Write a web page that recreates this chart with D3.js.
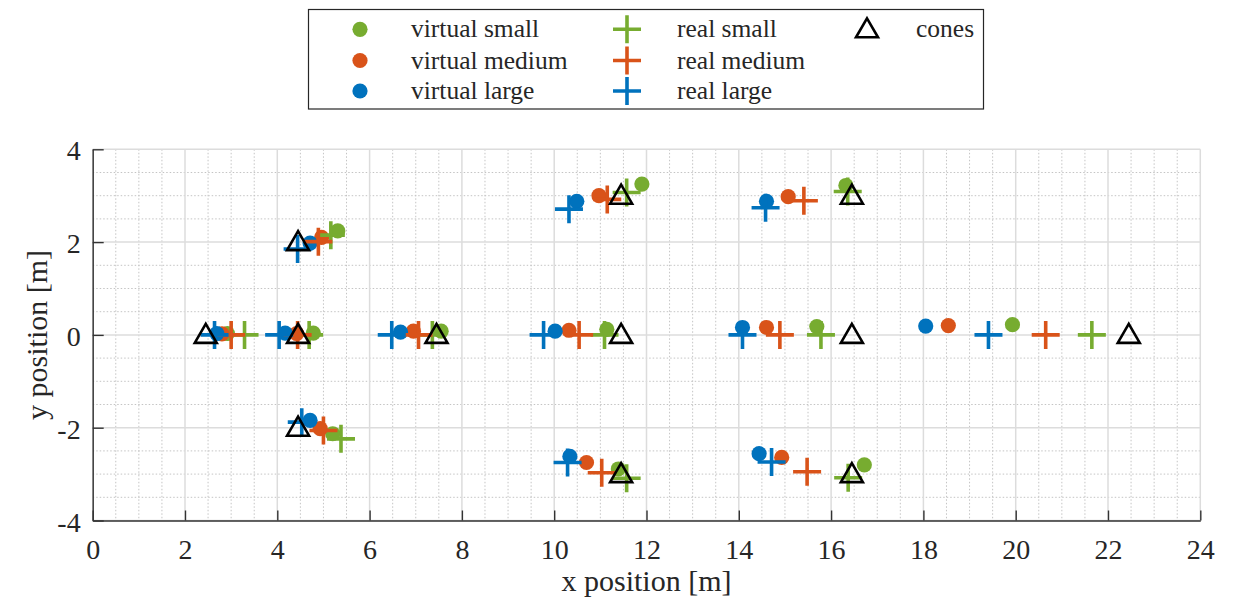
<!DOCTYPE html>
<html><head><meta charset="utf-8">
<script src="https://cdn.jsdelivr.net/npm/d3@7"></script>
<style>
body{margin:0;background:#fff}
svg{display:block;background:#fff}
svg text{font-family:"Liberation Serif","Times New Roman",serif !important;fill:#262626}
</style>
</head><body>
<svg id="chart" width="1243" height="604"></svg>
<script>
// ---------- data ----------
const xTickValues = [0, 2, 4, 6, 8, 10, 12, 14, 16, 18, 20, 22, 24];
const yTickValues = [-4, -2, 0, 2, 4];
const xLabel = "x position [m]";
const yLabel = "y position [m]";

const seriesNames = ["virtual small", "virtual medium", "virtual large", "real small", "real medium", "real large", "cones"];
const seriesColors = ["#77AC30", "#D95319", "#0072BD", "#77AC30", "#D95319", "#0072BD", "#000000"];
const seriesKinds = ["dot", "dot", "dot", "cross", "cross", "cross", "triangle"];

const virtualSmall = [[2.92,0.03],[4.78,0.04],[7.55,0.08],[11.14,0.12],[15.69,0.18],[19.93,0.22],
  [5.31,2.24],[5.20,-2.13],[11.90,3.25],[16.32,3.22],[11.39,-2.89],[16.72,-2.80]];
const virtualMedium = [[2.80,0.02],[4.42,0.03],[6.95,0.08],[10.32,0.10],[14.60,0.16],[18.54,0.20],
  [4.96,2.10],[4.93,-2.02],[10.97,3.00],[15.07,2.98],[10.70,-2.75],[14.93,-2.64]];
const virtualLarge = [[2.69,0.03],[4.17,0.04],[6.67,0.06],[10.02,0.08],[14.08,0.16],[18.05,0.19],
  [4.71,1.98],[4.71,-1.84],[10.49,2.88],[14.60,2.88],[10.34,-2.62],[14.44,-2.56]];
const realSmall = [[3.29,0],[4.69,0],[7.36,0],[11.09,0],[15.78,0],[21.65,0],
  [5.16,2.15],[5.38,-2.24],[11.57,3.07],[16.36,3.09],[11.57,-3.09],[16.37,-3.08]];
const realMedium = [[3.00,0],[4.44,0],[7.06,0],[10.54,0],[14.89,0],[20.65,0],
  [4.89,2.01],[5.00,-2.06],[11.15,2.92],[15.41,2.89],[11.03,-2.97],[15.48,-2.95]];
const realLarge = [[2.64,0],[4.04,0],[6.48,0],[9.77,0],[14.08,0],[19.41,0],
  [4.44,1.85],[4.53,-1.88],[10.32,2.71],[14.58,2.74],[10.29,-2.75],[14.71,-2.74]];
const cones = [[2.45,0],[4.45,0],[7.45,0],[11.45,0],[16.45,0],[22.45,0],
  [4.45,2],[4.45,-2],[11.45,3],[16.45,3],[11.45,-3],[16.45,-3]];

const seriesData = [virtualSmall, virtualMedium, virtualLarge, realSmall, realMedium, realLarge, cones];

// ---------- layout ----------
const FONT = '"Liberation Serif","Times New Roman",serif';
const svg = d3.select("#chart");
const L = 92.7, R = 1200.3, T = 149.3, B = 520.5;
const x = d3.scaleLinear().domain([0, 24]).range([L, R]);
const y = d3.scaleLinear().domain([-4, 4]).range([B, T]);

// grid
const minorX = d3.range(0, 24.001, 0.5).filter(v => Math.abs(v % 2) > 1e-6);
const minorY = d3.range(-4, 4.001, 0.5).filter(v => Math.abs(v % 2) > 1e-6);
const grid = svg.append("g");
grid.selectAll(".mx").data(minorX).join("line")
  .attr("x1", d => x(d)).attr("x2", d => x(d)).attr("y1", T).attr("y2", B)
  .attr("stroke", "#c4c4c4").attr("stroke-width", 1).attr("stroke-dasharray", "1.5,2");
grid.selectAll(".my").data(minorY).join("line")
  .attr("y1", d => y(d)).attr("y2", d => y(d)).attr("x1", L).attr("x2", R)
  .attr("stroke", "#c4c4c4").attr("stroke-width", 1).attr("stroke-dasharray", "1.5,2");
grid.selectAll(".Mx").data(xTickValues).join("line")
  .attr("x1", d => x(d)).attr("x2", d => x(d)).attr("y1", T).attr("y2", B)
  .attr("stroke", "#dcdcdc").attr("stroke-width", 1.5);
grid.selectAll(".My").data(yTickValues).join("line")
  .attr("y1", d => y(d)).attr("y2", d => y(d)).attr("x1", L).attr("x2", R)
  .attr("stroke", "#dcdcdc").attr("stroke-width", 1.5);

// axes
const axisColor = "#333333";
const gx = svg.append("g").attr("transform", `translate(0,${B})`)
  .call(d3.axisBottom(x).tickValues(xTickValues).tickFormat(d3.format("d")).tickSizeInner(-10).tickSizeOuter(0).tickPadding(0));
const gy = svg.append("g").attr("transform", `translate(${L},0)`)
  .call(d3.axisLeft(y).tickValues(yTickValues).tickFormat(d => d < 0 ? "-" + Math.abs(d) : String(d)).tickSizeInner(-11).tickSizeOuter(0).tickPadding(0));
[gx, gy].forEach(g => {
  g.attr("font-family", FONT).attr("font-size", 28);
  g.select(".domain").attr("stroke", axisColor).attr("stroke-width", 1.4);
  g.selectAll(".tick line").attr("stroke", axisColor).attr("stroke-width", 1.4);
  g.selectAll(".tick text").attr("fill", "#262626").attr("font-family", FONT).attr("font-size", 28);
});
gx.selectAll(".tick text").attr("y", 38.5).attr("dy", null);
gy.selectAll(".tick text").attr("x", -12).attr("dy", "0.38em");

// axis labels
svg.append("text").attr("x", (L + R) / 2).attr("y", 591).attr("text-anchor", "middle")
  .attr("font-family", FONT).attr("font-size", 30).text(xLabel);
svg.append("text").attr("transform", `translate(47,${(T + B) / 2}) rotate(-90)`).attr("text-anchor", "middle")
  .attr("font-family", FONT).attr("font-size", 30).text(yLabel);

// markers
const crossPath = "M-14,0H14M0,-14V14";
const triPath = "M0,-11L11,8L-11,8Z";
function drawMarker(sel, kind, color) {
  if (kind === "dot") {
    sel.append("circle").attr("r", 7.6).attr("fill", color);
  } else if (kind === "cross") {
    sel.append("path").attr("d", crossPath).attr("stroke", color).attr("stroke-width", 3.6).attr("fill", "none");
  } else {
    sel.append("path").attr("d", triPath).attr("stroke", color).attr("stroke-width", 2.6).attr("fill", "none").attr("stroke-linejoin", "miter");
  }
}
const plot = svg.append("g");
seriesData.forEach((data, i) => {
  const g = plot.append("g");
  g.selectAll("g").data(data).join("g")
    .attr("transform", d => `translate(${x(d[0])},${y(d[1])})`)
    .each(function () { drawMarker(d3.select(this), seriesKinds[i], seriesColors[i]); });
});

// legend
const legend = svg.append("g");
legend.append("rect").attr("x", 308.5).attr("y", 9.5).attr("width", 675).attr("height", 99.5)
  .attr("fill", "#fff").attr("stroke", "#262626").attr("stroke-width", 1.2);
const colMarkerX = [360, 627, 867];
const colTextX = [411, 677, 916];
const rowY = [29.3, 60.5, 91];
seriesNames.forEach((name, i) => {
  const col = Math.floor(i / 3), row = i % 3;
  const g = legend.append("g").attr("transform", `translate(${colMarkerX[col]},${rowY[row]})`);
  drawMarker(g, seriesKinds[i], seriesColors[i]);
  legend.append("text").attr("x", colTextX[col]).attr("y", rowY[row] + 8)
    .attr("font-family", FONT).attr("font-size", 25.5).attr("fill", "#1a1a1a").text(name);
});
</script>
</body></html>
